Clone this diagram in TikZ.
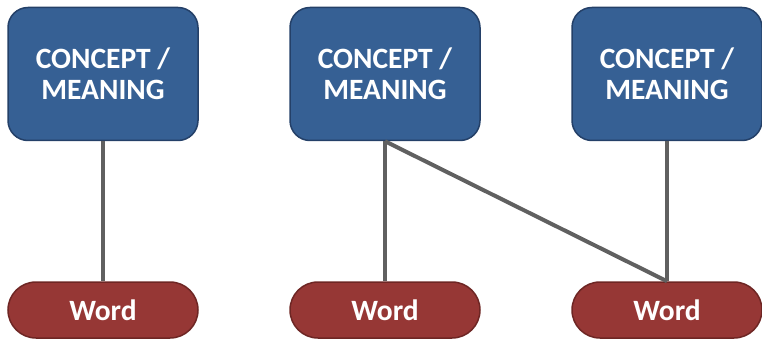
\documentclass[tikz,border=0pt]{standalone}
\usepackage{fontspec}
\setmainfont{Carlito}
\usepackage{xcolor}
\usepackage{tikz}

\definecolor{conceptblue}{RGB}{54,96,148}
\definecolor{conceptedge}{RGB}{36,64,104}
\definecolor{wordred}{RGB}{150,55,53}
\definecolor{wordedge}{RGB}{110,38,36}
\definecolor{linkgray}{RGB}{96,96,96}

\tikzset{
    concept/.style={draw=conceptedge,line width=1.5pt,fill=conceptblue,rounded corners=20pt,
        minimum width=190pt,minimum height=133pt,text=white,align=center,
        font=\fontsize{29.5}{31}\selectfont\bfseries},
    word/.style={draw=wordedge,line width=1.5pt,fill=wordred,rounded corners=28pt,
        minimum width=190pt,minimum height=56pt,text=white,
        font=\fontsize{29.5}{31}\selectfont\bfseries},
    link/.style={draw=linkgray,line width=4pt}
}

\begin{document}
\begin{tikzpicture}[x=1pt,y=-1pt]
            \useasboundingbox (0,0) rectangle (762,339);

            % top row
            \node[concept] (meaningA) at (103,74) {CONCEPT /\\MEANING};
            \node[concept] (meaningB) at (385,74) {CONCEPT /\\MEANING};
            \node[concept] (meaningC) at (667,74) {CONCEPT /\\MEANING};

            % bottom row
            \node[word] (wordA) at (103,310) {Word};
            \node[word] (wordB) at (385,310) {Word};
            \node[word] (wordC) at (667,310) {Word};

            \draw[link] (meaningA) -- (wordA);
            \draw[link] (meaningB) -- (wordB);
            \draw[link] (meaningB.south) -- (wordC.north);
            \draw[link] (meaningC) -- (wordC);
        \end{tikzpicture}
\end{document}
